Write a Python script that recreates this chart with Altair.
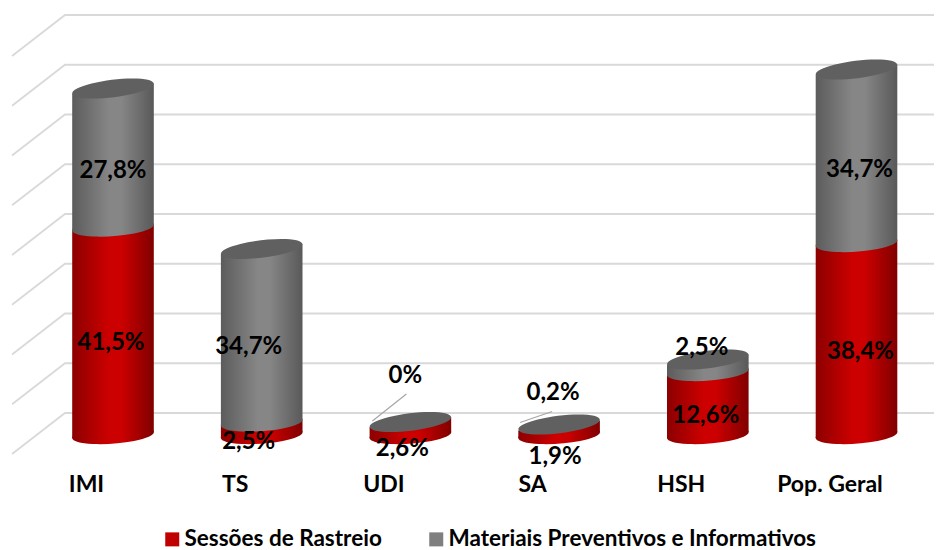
import altair as alt
import pandas as pd

# --- chart values -------------------------------------------------------
categories = ["IMI", "TS", "UDI", "SA", "HSH", "Pop. Geral"]
sessoes = [41.5, 2.5, 2.6, 1.9, 12.6, 38.4]
materiais = [27.8, 34.7, 0.0, 0.2, 2.5, 34.7]
sessoes_txt = ["41,5%", "2,5%", "2,6%", "1,9%", "12,6%", "38,4%"]
materiais_txt = ["27,8%", "34,7%", "0%", "0,2%", "2,5%", "34,7%"]
gridlines = [0, 10, 20, 30, 40, 50, 60, 70, 80]
series_names = ["Sessões de Rastreio", "Materiais Preventivos e Informativos"]

# --- styling / layout constants ----------------------------------------
W, H = 926, 462
PX = 5.0          # px per percentage point
STEP = 148.7      # px between categories
X0 = 105          # plot px of the first category
Y0 = 427          # plot px of value 0
FONT = "Lato"
HALF = 40.8 / STEP
TILT_LOW, TILT_TOP = 0.6, 1.0
SIZE = 82 ** 2

ELL_LOW = "M-0.9973,0.0732 A1,0.21,-4.2,1,1,0.9973,-0.0732 A1,0.21,-4.2,1,1,-0.9973,0.0732 Z"
ELL_TOP = "M-0.9925,0.1219 A1,0.21,-7,1,1,0.9925,-0.1219 A1,0.21,-7,1,1,-0.9925,0.1219 Z"


def grad(edgeL, mid, edgeR):
    return alt.LinearGradient(
        gradient="linear", x1=0, x2=1, y1=0, y2=0,
        stops=[
            alt.GradientStop(offset=0, color=edgeL),
            alt.GradientStop(offset=0.45, color=mid),
            alt.GradientStop(offset=0.6, color=mid),
            alt.GradientStop(offset=1, color=edgeR),
        ],
    )


RED = grad("#8c0000", "#cc0000", "#800000")
GREY = grad("#5c5c5c", "#868686", "#595959")
CAP = "#606060"

xscale = alt.Scale(domain=[-X0 / STEP, (W - X0) / STEP], nice=False, zero=False)
yscale = alt.Scale(domain=[(Y0 - H) / PX, Y0 / PX], nice=False, zero=False)
xaxis = alt.Axis(
    values=list(range(6)), grid=False, domain=False, ticks=False, title=None,
    labelExpr="['IMI','TS','UDI','SA','HSH','Pop. Geral'][datum.value]",
    labelFont=FONT, labelFontSize=23, labelFontWeight="bold",
    labelColor="#000000", labelOffset=-27, labelPadding=3,
    labelOverlap=False, labelFlush=False,
)
X = alt.X("x:Q", scale=xscale, axis=xaxis)
Y = alt.Y("y:Q", scale=yscale, axis=None)

# --- derived tables -----------------------------------------------------
grid_rows = []
for g in gridlines:
    back = 4.4 + 0.995 * g
    for x, y in [(-0.679, back - 8.2), (-0.3228, back), (5.6, back)]:
        grid_rows.append({"g": g, "x": x, "y": y})
grid = pd.DataFrame(grid_rows)

red_rows, grey_rows = [], []
base_rows, mid_rows, top_rows = [], [], []
for i, c in enumerate(categories):
    r, m = sessoes[i], materiais[i]
    t = r + m
    r_tilt = TILT_LOW if m >= 1 else TILT_TOP
    for side in (-1, 1):
        red_rows.append({"c": c, "x": i + side * HALF,
                         "y": side * TILT_LOW,
                         "y2": r + side * r_tilt})
        if m >= 1:
            grey_rows.append({"c": c, "x": i + side * HALF,
                              "y": r + side * TILT_LOW,
                              "y2": t + side * TILT_TOP})
    base_rows.append({"x": i, "y": 0})
    if m >= 1:
        mid_rows.append({"x": i, "y": r})
    top_rows.append({"x": i, "y": t})

legend_df = pd.DataFrame({"x": [0, 0], "y": [10, 10], "s": series_names})

# label placement: nudges in px relative to each segment's middle
nudge_red = [(-2, 12), (-13, 13), (-8, 20), (-4, 27), (-2, 12), (4, 13)]
nudge_grey = [(0, 13), (-13, 11), (-5, -46), (-6, -32), (-6, -18), (3, 14)]
label_rows = []
for i in range(6):
    r, m = sessoes[i], materiais[i]
    for mid, txt, (dx, dy) in [
        (r / 2, sessoes_txt[i], nudge_red[i]),
        (r + m / 2, materiais_txt[i], nudge_grey[i]),
    ]:
        label_rows.append({"x": i + dx / STEP, "y": mid - dy / PX, "t": txt})
labels = pd.DataFrame(label_rows)

leader_rows = []
for i, (dx1, dy1, dx2, dy2) in {2: (-38, 1, -4, 28), 3: (-39, 2, -7, 13)}.items():
    t = sessoes[i] + materiais[i]
    leader_rows.append({"k": i, "x": i + dx1 / STEP, "y": t + dy1 / PX})
    leader_rows.append({"k": i, "x": i + dx2 / STEP, "y": t + dy2 / PX})
leaders = pd.DataFrame(leader_rows)

# --- layers -------------------------------------------------------------
grid_l = alt.Chart(grid).mark_line(color="#d9d9d9", strokeWidth=1.8).encode(
    x=X, y=Y, detail="g:N",
)

legend_l = alt.Chart(legend_df).mark_square(size=1, opacity=1).encode(
    x=X, y=Y,
    color=alt.Color(
        "s:N",
        scale=alt.Scale(domain=series_names, range=["#c00000", "#7f7f7f"]),
        legend=alt.Legend(
            title=None, orient="none", direction="horizontal",
            legendX=153, legendY=520, symbolType="square", symbolSize=196,
            labelFont=FONT, labelFontSize=22.5, labelFontWeight="bold",
            labelColor="#000000", columnPadding=43, labelOffset=1, labelLimit=500,
        ),
    ),
)

base_l = alt.Chart(pd.DataFrame(base_rows)).mark_point(
    shape=ELL_LOW, size=SIZE, filled=True, fill=RED, opacity=1
).encode(x=X, y=Y)

red_l = alt.Chart(pd.DataFrame(red_rows)).mark_area(fill=RED, opacity=1).encode(
    x=X, y=Y, y2="y2:Q", detail="c:N"
)
grey_l = alt.Chart(pd.DataFrame(grey_rows)).mark_area(fill=GREY, opacity=1).encode(
    x=X, y=Y, y2="y2:Q", detail="c:N"
)
mid_l = alt.Chart(pd.DataFrame(mid_rows)).mark_point(
    shape=ELL_LOW, size=SIZE, filled=True, fill=GREY, opacity=1
).encode(x=X, y=Y)
top_l = alt.Chart(pd.DataFrame(top_rows)).mark_point(
    shape=ELL_TOP, size=SIZE, filled=True, fill=CAP, opacity=1
).encode(x=X, y=Y)

leader_l = alt.Chart(leaders).mark_line(color="#a6a6a6", strokeWidth=1.2).encode(
    x=X, y=Y, detail="k:N"
)
text_l = alt.Chart(labels).mark_text(
    font=FONT, fontSize=24, fontWeight="bold", color="#000000",
    align="center", baseline="middle",
).encode(x=X, y=Y, text="t:N")

chart = (
    alt.layer(grid_l, legend_l, base_l, red_l, grey_l, mid_l, top_l, leader_l, text_l)
    .properties(
        width=W, height=H,
        autosize=alt.AutoSizeParams(type="none"),
        padding={"left": 0, "top": 0, "right": 0, "bottom": 80},
        background="#ffffff",
    )
    .configure_view(stroke=None)
)

chart.save("out.html", embed_options={"renderer": "svg", "actions": False})
